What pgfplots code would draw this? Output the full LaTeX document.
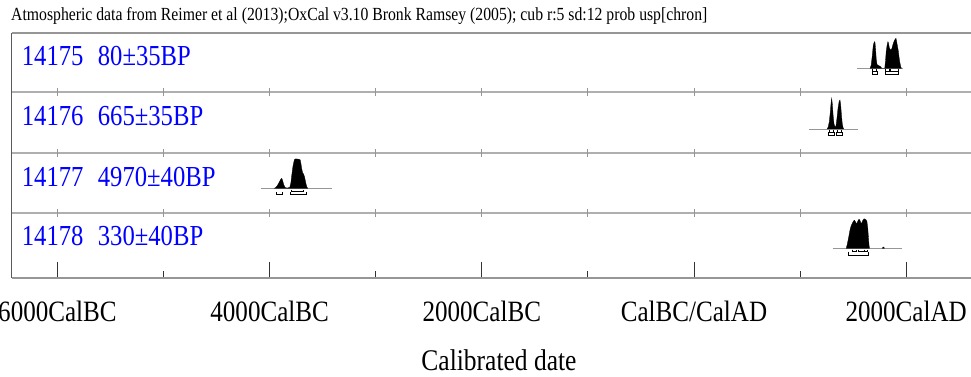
\documentclass[border=0pt]{standalone}
\usepackage{fontspec}
\setmainfont{Liberation Serif}[FakeStretch=0.85]
\usepackage{pgfplots}
\pgfplotsset{compat=1.18}
\definecolor{frameg}{RGB}{150,150,150}
\definecolor{sepg}{RGB}{175,175,175}
\definecolor{leftg}{RGB}{90,90,90}
\begin{document}
\begin{tikzpicture}
\begin{axis}[
  at={(11.7pt,98.5pt)}, anchor=south west,
  scale only axis, width=968.3pt, height=245.5pt,
  xmin=-6431, xmax=2696, ymin=0, ymax=245.5,
  axis line style={draw=none},
  ytick=\empty,
  xtick={-6000,-4000,-2000,0,2000},
  xticklabels={6000CalBC,4000CalBC,2000CalBC,CalBC/CalAD,2000CalAD},
  minor xtick={-5000,-3000,-1000,1000},
  xtick pos=bottom,
  tick align=inside,
  major tick length=16.5pt, minor tick length=7.5pt,
  xtick style={draw=black!80, line width=0.8pt},
  x tick label style={font=\fontsize{29.5}{30}\selectfont, anchor=base, yshift=-43.2pt},
  clip=false,
  unbounded coords=jump,
]
% frame
\draw[frameg, line width=2pt] (rel axis cs:0,1) -- (rel axis cs:1,1);
\draw[frameg, line width=2pt] (rel axis cs:0,0) -- (rel axis cs:1,0);
\draw[sepg, line width=1.2pt] (axis cs:-6431,186.5) -- (axis cs:2696,186.5);
\draw[sepg, line width=1.2pt] (axis cs:-6431,125.5) -- (axis cs:2696,125.5);
\draw[sepg, line width=1.2pt] (axis cs:-6431,65.5) -- (axis cs:2696,65.5);
\pgfplotsinvokeforeach{-6000,-5000,-4000,-3000,-2000,-1000,0,1000,2000}{
  \draw[frameg, line width=0.8pt] (axis cs:#1,182.5) -- (axis cs:#1,190.5);
  \draw[frameg, line width=0.8pt] (axis cs:#1,121.5) -- (axis cs:#1,129.5);
  \draw[frameg, line width=0.8pt] (axis cs:#1,61.5) -- (axis cs:#1,69.5);
}
\draw[leftg, line width=1.5pt] (rel axis cs:0,0) -- (rel axis cs:0,1);

% ---- row 1: 14175, 80+-35BP (baseline 210.2)
\addplot[frameg, line width=0.8pt] coordinates {(1536,210.2) (1970,210.2)};
\addplot[fill=black, draw=black, line width=0.3pt] table[row sep=\\, y expr=\thisrow{h}+210.2]{
yr h\\
1660 0\\ 1670 3\\ 1680 12\\ 1690 23\\ 1700 26.6\\ 1706 26\\ 1712 19\\ 1718 9\\ 1725 4\\ 1735 3\\ 1745 2.5\\ 1760 1.5\\ 1770 0\\
1798 0\\ 1805 7\\ 1812 17\\ 1820 23\\ 1828 26.6\\ 1834 25\\ 1842 20\\ 1850 19\\ 1858 18.3\\ 1866 20\\ 1876 24\\ 1886 27\\ 1896 29\\ 1904 30\\ 1910 27\\ 1918 22\\ 1925 18\\ 1932 12\\ 1940 6\\ 1948 2\\ 1955 0\\
} -- cycle;
\addplot[black, line width=0.6pt] coordinates {(1680,209.2) (1680,207.2) (1721,207.2) (1721,209.2) (1721,nan) (1800,209.2) (1800,207.2) (1841,207.2) (1841,209.2) (1841,nan) (1847,209.2) (1847,207.2) (1926,207.2) (1926,209.2)};
\addplot[black, line width=0.6pt] coordinates {(1678,207.2) (1678,204.2) (1728,204.2) (1728,207.2) (1728,nan) (1800,207.2) (1800,204.2) (1930,204.2) (1930,207.2)};

% ---- row 2: 14176, 665+-35BP (baseline 149.5)
\addplot[frameg, line width=0.8pt] coordinates {(1084,149.5) (1546,149.5)};
\addplot[fill=black, draw=black, line width=0.3pt] table[row sep=\\, y expr=\thisrow{h}+149.5]{
yr h\\
1255 0\\ 1265 2\\ 1275 7\\ 1285 17\\ 1292 26\\ 1298 30.7\\ 1304 25\\ 1312 13\\ 1320 5\\ 1328 2.5\\ 1334 2\\ 1340 4\\ 1348 11\\ 1358 21\\ 1368 27.5\\ 1376 29\\ 1382 25\\ 1390 14\\ 1398 5\\ 1405 1.5\\ 1412 0\\
} -- cycle;
\addplot[black, line width=0.6pt] coordinates {(1280,148.5) (1280,146.5) (1315,146.5) (1315,148.5) (1315,nan) (1350,148.5) (1350,146.5) (1390,146.5) (1390,148.5)};
\addplot[black, line width=0.6pt] coordinates {(1266,146.5) (1266,143.3) (1322,143.3) (1322,146.5) (1322,nan) (1338,146.5) (1338,143.3) (1398,143.3) (1398,146.5)};

% ---- row 3: 14177, 4970+-40BP (baseline 90.2)
\addplot[frameg, line width=0.8pt] coordinates {(-4084,90.2) (-3415,90.2)};
\addplot[fill=black, draw=black, line width=0.3pt] table[row sep=\\, y expr=\thisrow{h}+90.2]{
yr h\\
-3955 0\\ -3940 1\\ -3925 3\\ -3910 6\\ -3895 9\\ -3886 10\\ -3878 8\\ -3868 4\\ -3858 1.5\\ -3850 0.5\\ -3830 0.3\\ -3810 1\\ -3800 5\\ -3790 14\\ -3780 22\\ -3768 28\\ -3760 29.3\\ -3740 29.3\\ -3725 29\\ -3712 28.5\\ -3705 25\\ -3698 20\\ -3690 16\\ -3680 14\\ -3672 12\\ -3664 8\\ -3656 4\\ -3648 1\\ -3640 0\\
} -- cycle;
\addplot[black, line width=0.6pt] coordinates {(-3792,88.8) (-3792,86.8) (-3682,86.8) (-3682,88.8)};
\addplot[black, line width=0.6pt] coordinates {(-3933,86.2) (-3933,84.2) (-3876,84.2) (-3876,86.2) (-3876,nan) (-3801,86.2) (-3801,84.2) (-3650,84.2) (-3650,86.2)};

% ---- row 4: 14178, 330+-40BP (baseline 30.2)
\addplot[frameg, line width=0.8pt] coordinates {(1307,30.2) (1958,30.2)};
\addplot[fill=black, draw=black, line width=0.3pt] table[row sep=\\, y expr=\thisrow{h}+30.2]{
yr h\\
1435 0\\ 1445 4\\ 1458 11\\ 1470 18\\ 1480 22\\ 1492 25\\ 1502 27\\ 1512 28\\ 1520 27\\ 1530 24.5\\ 1540 26\\ 1550 28.5\\ 1558 29\\ 1566 27.5\\ 1574 25\\ 1582 25.5\\ 1592 28\\ 1604 29.5\\ 1614 29\\ 1622 28.5\\ 1630 27\\ 1638 20\\ 1645 10\\ 1650 3\\ 1655 0\\
} -- cycle;
\addplot[fill=black, draw=black, line width=0.3pt] coordinates {(1775,30.2) (1782,31.4) (1790,31.4) (1795,30.2)} -- cycle;
\addplot[black, line width=0.6pt] coordinates {(1490,28.8) (1490,26.8) (1530,26.8) (1530,28.8) (1530,nan) (1545,28.8) (1545,26.8) (1603,26.8) (1603,28.8) (1603,nan) (1610,28.8) (1610,26.8) (1630,26.8) (1630,28.8)};
\addplot[black, line width=0.6pt] coordinates {(1454,26.8) (1454,23.5) (1643,23.5) (1643,26.8)};
\end{axis}

% title
\node[anchor=base west, inner sep=0, font=\fontsize{18.5}{19}\selectfont] at (11pt,356pt) {Atmospheric data from Reimer et al (2013);OxCal v3.10 Bronk Ramsey (2005); cub r:5 sd:12 prob usp[chron]};
% row labels
\begin{scope}[every node/.style={anchor=base west, inner sep=0, text=blue, font=\fontsize{29}{30}\selectfont}]
\node at (21.7pt,311pt) {14175};
\node at (97.7pt,311pt) {80±35BP};
\node at (21.7pt,251pt) {14176};
\node at (97.7pt,251pt) {665±35BP};
\node at (21.7pt,190.3pt) {14177};
\node at (97.7pt,190.3pt) {4970±40BP};
\node at (21.7pt,131pt) {14178};
\node at (97.7pt,131pt) {330±40BP};
\end{scope}
% x label
\node[anchor=base, inner sep=0, font=\fontsize{30}{31}\selectfont] at (499pt,6pt) {Calibrated date};
\pgfresetboundingbox
\path (0,0) rectangle (971pt,377pt);
\end{tikzpicture}
\end{document}
